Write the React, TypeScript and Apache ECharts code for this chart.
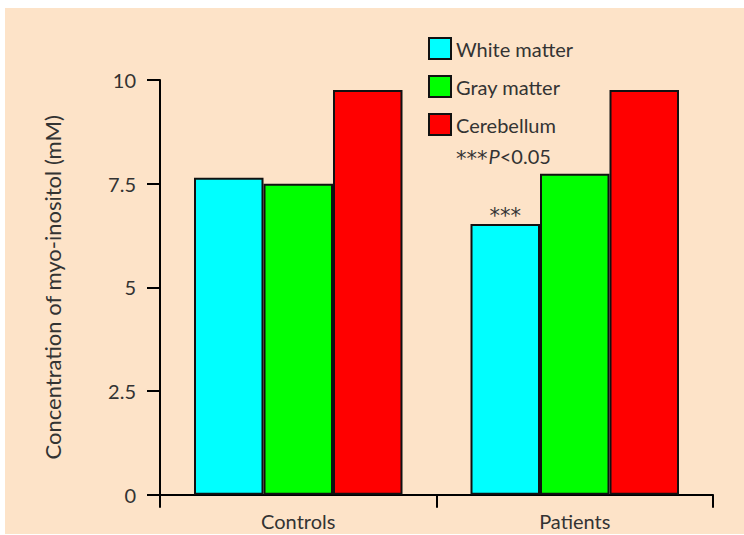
import React, { useEffect, useRef } from "react";
import * as echarts from "echarts";

const categories = ["Controls", "Patients"];
const seriesNames = ["White matter", "Gray matter", "Cerebellum"];
const whiteMatter = [7.64, 6.53];
const grayMatter = [7.5, 7.74];
const cerebellum = [9.76, 9.76];
const seriesColors = ["#00ffff", "#00ff00", "#ff0000"];
const yTicks = [0, 2.5, 5, 7.5, 10];
const significance = ["", "***"];

const FONT = "Lato";
const STAR_FONT = "DejaVu Sans";
const TEXT = "#333333";

export default function App() {
  const ref = useRef<HTMLDivElement>(null);
  useEffect(() => {
    if (!ref.current) return;
    const chart = echarts.init(ref.current, undefined, { renderer: "svg" });
    const values = [whiteMatter, grayMatter, cerebellum];
    const series = seriesNames.map((name, si) => ({
      name,
      type: "bar",
      barWidth: 69.5,
      barGap: "0%",
      itemStyle: { color: seriesColors[si], borderColor: "#111", borderWidth: 2 },
      data: values[si].map((v, ci) =>
        si === 0 && significance[ci]
          ? {
              value: v,
              label: {
                show: true,
                position: "top",
                distance: -3,
                formatter: significance[ci],
                color: TEXT,
                fontFamily: STAR_FONT,
                fontSize: 21,
              },
            }
          : v
      ),
    }));
    chart.setOption({
      animation: false,
      backgroundColor: "transparent",
      textStyle: { fontFamily: FONT },
      graphic: [
        {
          type: "rect",
          z: -10,
          silent: true,
          shape: { x: 5, y: 8, width: 739, height: 526 },
          style: { fill: "#fde3c8" },
        },
        {
          type: "text",
          left: 456,
          top: 146,
          style: {
            text: "{s|***}{i|P}{a|<0.05}",
            rich: {
              s: { fontFamily: STAR_FONT, fontSize: 21, fill: TEXT, padding: [6, 1, 0, 0] },
              a: { fontFamily: FONT, fontSize: 20, fill: TEXT },
              i: { fontFamily: FONT, fontSize: 20, fill: TEXT, fontStyle: "italic" },
            },
          },
        },
      ],
      legend: {
        orient: "vertical",
        left: 428,
        top: 37,
        padding: 0,
        itemWidth: 22,
        itemHeight: 21,
        itemGap: 15,
        icon: "rect",
        itemStyle: { borderColor: "#111", borderWidth: 2 },
        textStyle: { fontFamily: FONT, fontSize: 20, color: TEXT },
        data: seriesNames,
      },
      grid: { left: 160, right: 31, top: 80, bottom: 40.3, containLabel: false },
      xAxis: {
        type: "category",
        data: categories,
        axisLine: { lineStyle: { color: "#000", width: 2 } },
        axisTick: { show: true, length: 13, lineStyle: { color: "#000", width: 2 } },
        axisLabel: { margin: 16, fontSize: 20, color: TEXT, fontFamily: FONT },
      },
      yAxis: {
        type: "value",
        min: 0,
        max: 10,
        interval: 2.5,
        name: "Concentration of myo-inositol (mM)",
        nameLocation: "middle",
        nameGap: 97,
        nameTextStyle: { fontSize: 22, color: TEXT, fontFamily: FONT },
        splitLine: { show: false },
        axisLine: { show: true, lineStyle: { color: "#000", width: 2 } },
        axisTick: { show: true, length: 13, lineStyle: { color: "#000", width: 2 } },
        axisLabel: {
          margin: 24,
          fontSize: 20,
          color: TEXT,
          fontFamily: FONT,
          formatter: (v: number) => (yTicks.includes(v) ? String(v) : ""),
        },
      },
      series,
    });
    return () => chart.dispose();
  }, []);
  return (
    <div
      ref={ref}
      style={{ position: "absolute", left: 0, top: 0, width: 744, height: 535 }}
    />
  );
}
